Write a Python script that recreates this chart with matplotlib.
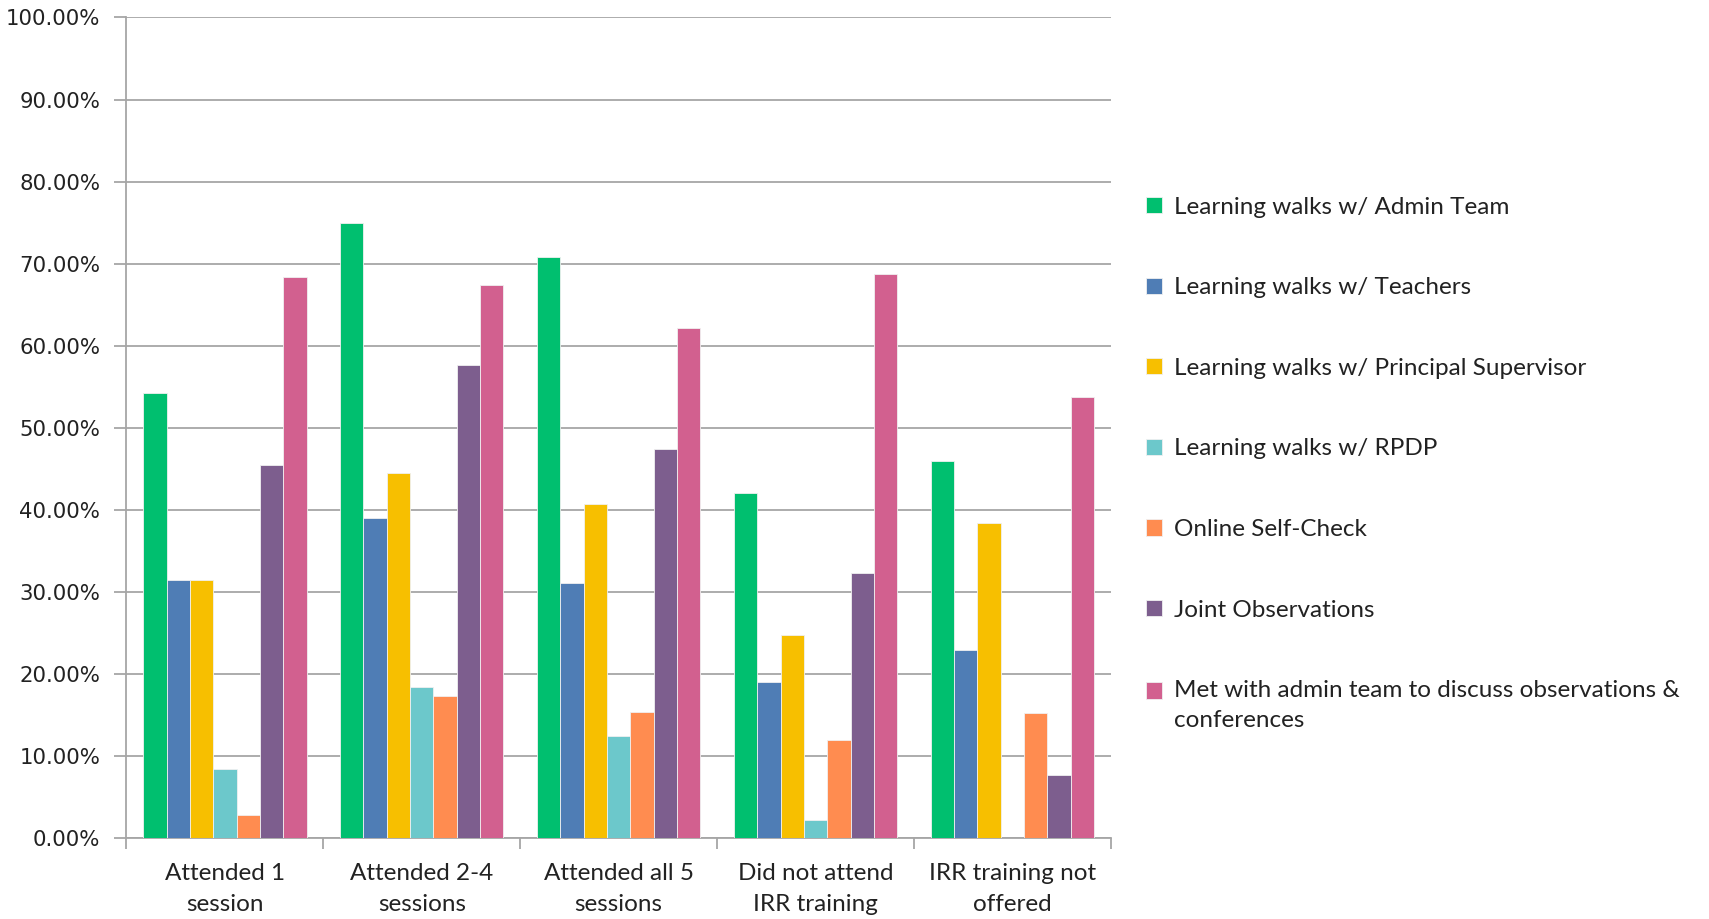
import matplotlib
matplotlib.use("Agg")
import matplotlib.pyplot as plt
import numpy as np
from matplotlib.ticker import FuncFormatter, MultipleLocator, FixedLocator

categories = ["Attended 1\nsession", "Attended 2-4\nsessions", "Attended all 5\nsessions",
              "Did not attend\nIRR training", "IRR training not\noffered"]
series_names = ["Learning walks w/ Admin Team", "Learning walks w/ Teachers",
                "Learning walks w/ Principal Supervisor", "Learning walks w/ RPDP",
                "Online Self-Check", "Joint Observations",
                "Met with admin team to discuss observations &\nconferences"]
admin_team = [54.3, 74.9, 70.8, 42.1, 46.0]
teachers = [31.4, 39.0, 31.1, 19.0, 22.9]
principal_sup = [31.4, 44.5, 40.7, 24.8, 38.4]
rpdp = [8.4, 18.4, 12.5, 2.2, 0.0]
self_check = [2.8, 17.3, 15.4, 12.0, 15.3]
joint_obs = [45.5, 57.6, 47.4, 32.3, 7.7]
met_admin = [68.4, 67.4, 62.1, 68.8, 53.8]
series = [admin_team, teachers, principal_sup, rpdp, self_check, joint_obs, met_admin]
colors = ["#00BF6F", "#4F7DB5", "#F7BF00", "#6CC8CB", "#FF8C50", "#7D5E8E", "#D2608F"]

fig = plt.figure(figsize=(17.09, 9.19), dpi=100)
ax = fig.add_axes([0.074, 0.088, 0.576, 0.893])

n = len(series)
bw = 0.83 / n
x = np.arange(len(categories))
for i, (vals, c, name) in enumerate(zip(series, colors, series_names)):
    ax.bar(x - 0.415 + bw * (i + 0.5), vals, width=bw, color=c, label=name,
           edgecolor="#F0F0F0", linewidth=0.6, zorder=3)

ax.set_xlim(-0.5, len(categories) - 0.5)
ax.set_ylim(0, 100)
ax.yaxis.set_major_locator(MultipleLocator(10))
ax.yaxis.set_major_formatter(FuncFormatter(lambda v, p: f"{v:.2f}%"))
ax.grid(axis="y", color="#A6A6A6", linewidth=1.3, zorder=0)
for s in ["top", "right"]:
    ax.spines[s].set_visible(False)
for s in ["left", "bottom"]:
    ax.spines[s].set_color("#A6A6A6")
    ax.spines[s].set_linewidth(1.3)

ax.set_xticks(x)
ax.set_xticklabels(categories, fontsize=17.5, family="Lato", color="#222222", linespacing=1.6)
ax.tick_params(axis="x", which="major", length=0, pad=18)
ax.xaxis.set_minor_locator(FixedLocator(np.arange(-0.5, len(categories), 1.0)))
ax.tick_params(axis="x", which="minor", length=8, color="#A6A6A6", width=1.3)
ax.tick_params(axis="y", length=9, color="#A6A6A6", width=1.3, labelsize=15.3, pad=10,
               labelcolor="#222222")

leg = fig.legend(loc="center left", bbox_to_anchor=(0.6578, 0.495), frameon=False,
                 prop={"family": "Lato", "size": 17.5}, labelspacing=2.45,
                 handlelength=0.65, handleheight=0.65, handletextpad=0.5)
for t in leg.get_texts():
    t.set_color("#222222")
    t.set_linespacing(1.55)
# align the last (two-line) entry's marker with its first line
last = leg.legend_handles[-1]
last.set_y(last.get_y() + 11)

fig.savefig("out.png", dpi=100)
